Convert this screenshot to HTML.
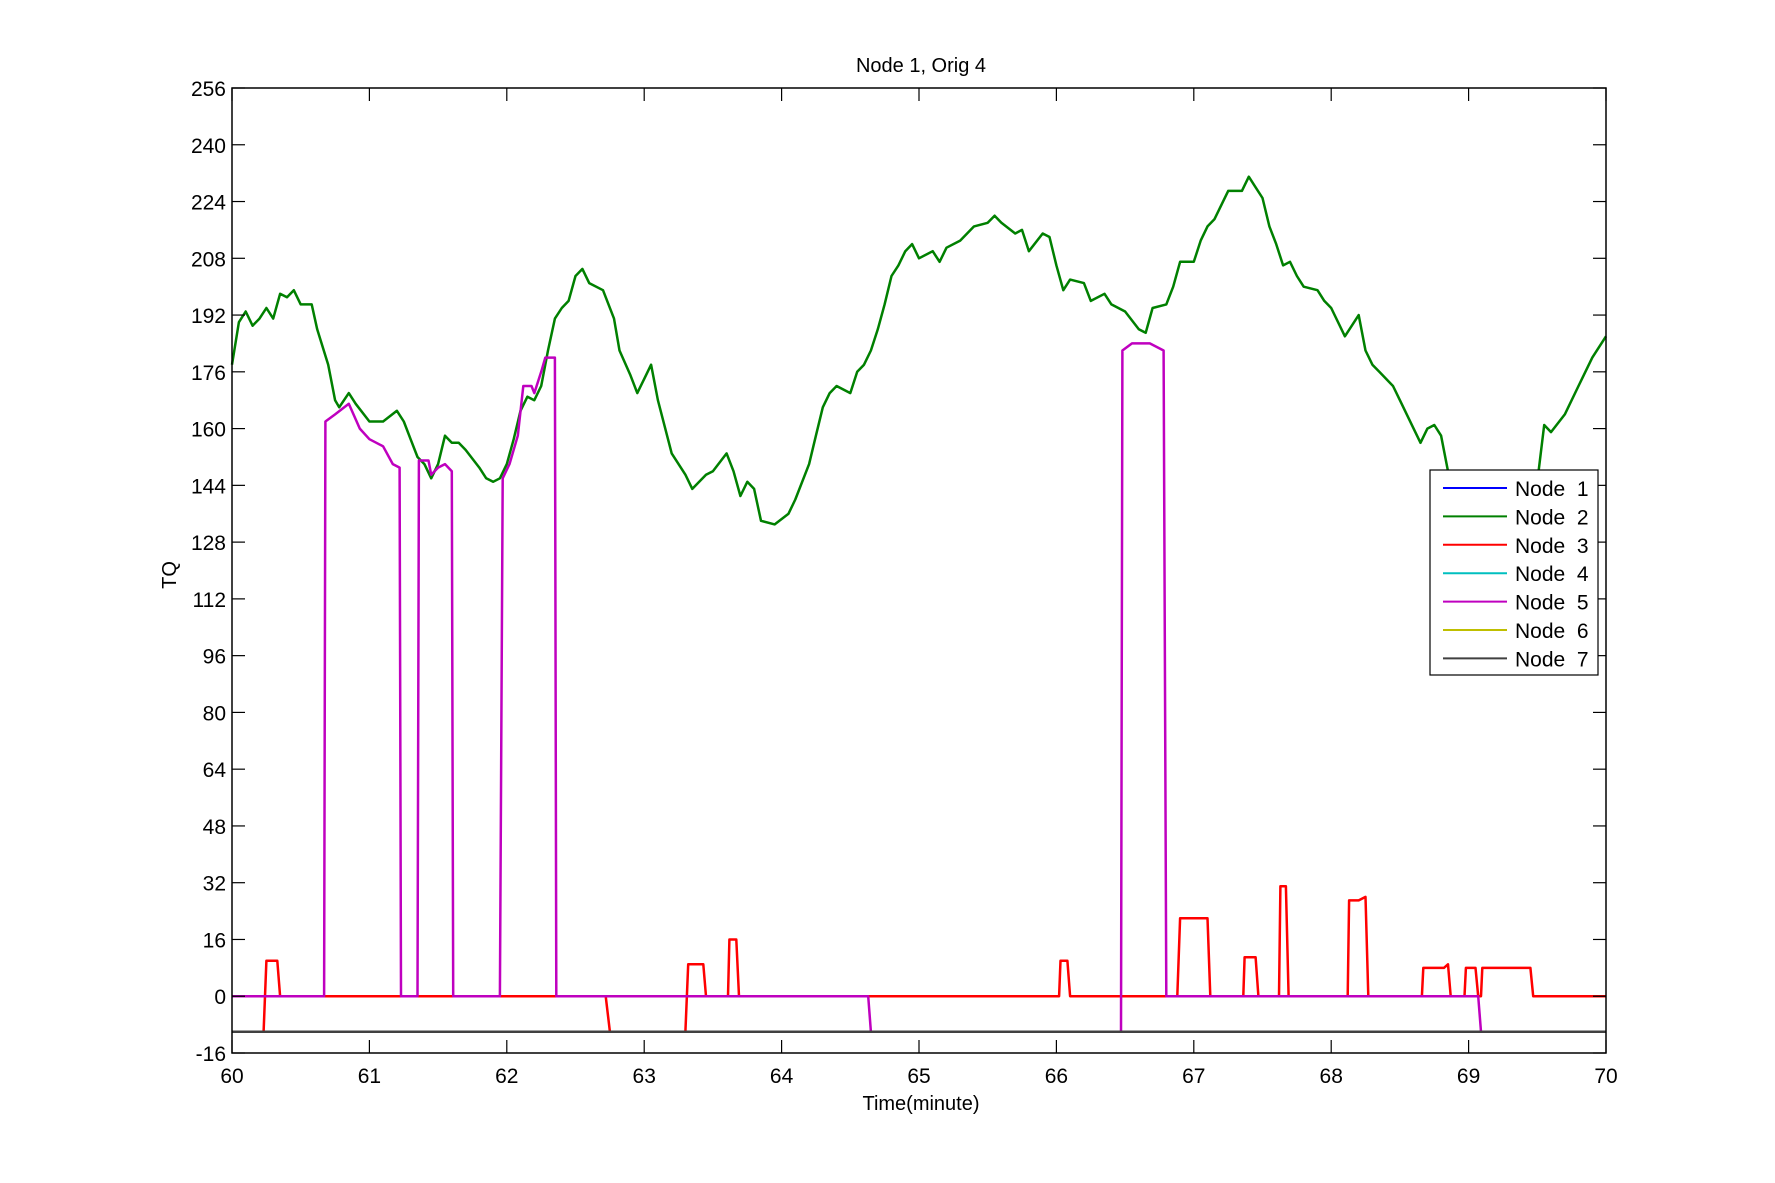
<!DOCTYPE html>
<html><head><meta charset="utf-8"><style>
body{margin:0;background:#fff;}
svg{display:block;font-family:"Liberation Sans",sans-serif;}
</style></head><body>
<svg id="chart" width="1775" height="1183">
<rect width="1775" height="1183" fill="#fff"/>
<g id="plot"></g>
</svg>
<script>
const xTicks=[60,61,62,63,64,65,66,67,68,69,70];
const yTicks=[-16,0,16,32,48,64,80,96,112,128,144,160,176,192,208,224,240,256];
const greenT=[60,60.05,60.1,60.15,60.2,60.25,60.3,60.35,60.4,60.45,60.5,60.58,60.62,60.7,60.75,60.78,60.85,60.9,61.0,61.1,61.2,61.25,61.3,61.35,61.4,61.45,61.5,61.55,61.6,61.65,61.7,61.8,61.85,61.9,61.95,62.0,62.05,62.1,62.15,62.2,62.25,62.3,62.35,62.4,62.45,62.5,62.55,62.6,62.7,62.78,62.82,62.9,62.95,63.0,63.05,63.1,63.2,63.3,63.35,63.45,63.5,63.6,63.65,63.7,63.75,63.8,63.85,63.95,64.05,64.1,64.2,64.25,64.3,64.35,64.4,64.5,64.55,64.6,64.65,64.7,64.75,64.8,64.85,64.9,64.95,65.0,65.1,65.15,65.2,65.3,65.4,65.5,65.55,65.6,65.7,65.75,65.8,65.9,65.95,66.0,66.05,66.1,66.2,66.25,66.35,66.4,66.5,66.6,66.65,66.7,66.8,66.85,66.9,67.0,67.05,67.1,67.15,67.25,67.35,67.4,67.45,67.5,67.55,67.6,67.65,67.7,67.75,67.8,67.9,67.95,68.0,68.1,68.2,68.25,68.3,68.35,68.45,68.5,68.6,68.65,68.7,68.75,68.8,68.85,68.9,69.0,69.2,69.4,69.5,69.55,69.6,69.7,69.8,69.9,70];
const greenV=[178,190,193,189,191,194,191,198,197,199,195,195,188,178,168,166,170,167,162,162,165,162,157,152,150,146,150,158,156,156,154,149,146,145,146,150,157,165,169,168,172,182,191,194,196,203,205,201,199,191,182,175,170,174,178,168,153,147,143,147,148,153,148,141,145,143,134,133,136,140,150,158,166,170,172,170,176,178,182,188,195,203,206,210,212,208,210,207,211,213,217,218,220,218,215,216,210,215,214,206,199,202,201,196,198,195,193,188,187,194,195,200,207,207,213,217,219,227,227,231,228,225,217,212,206,207,203,200,199,196,194,186,192,182,178,176,172,168,160,156,160,161,158,148,140,136,135,137,145,161,159,164,172,180,186];
const redT=[60,60.23,60.25,60.33,60.35,62.72,62.75,63.3,63.32,63.43,63.45,63.61,63.62,63.67,63.69,66.02,66.03,66.08,66.1,66.88,66.9,67.1,67.12,67.36,67.37,67.45,67.47,67.62,67.63,67.67,67.69,68.12,68.13,68.2,68.25,68.27,68.66,68.67,68.82,68.85,68.87,68.97,68.98,69.05,69.07,69.09,69.1,69.45,69.47,70];
const redV=[-10,-10,10,10,0,0,-10,-10,9,9,0,0,16,16,0,0,10,10,0,0,22,22,0,0,11,11,0,0,31,31,0,0,27,27,28,0,0,8,8,9,0,0,8,8,0,0,8,8,0,0];
const magT=[60,60.67,60.68,60.75,60.85,60.93,61.0,61.1,61.17,61.22,61.23,61.35,61.36,61.43,61.45,61.5,61.55,61.6,61.61,61.95,61.97,62.02,62.08,62.12,62.18,62.2,62.25,62.28,62.35,62.36,64.63,64.65,66.47,66.48,66.55,66.68,66.78,66.8,69.07,69.09,70];
const magV=[0,0,162,164,167,160,157,155,150,149,0,0,151,151,147,149,150,148,0,0,146,150,158,172,172,170,176,180,180,0,0,-10,-10,182,184,184,182,0,0,-10,-10];
const blackT=[60,70];
const blackV=[-10,-10];
const legendLabels=["Node  1","Node  2","Node  3","Node  4","Node  5","Node  6","Node  7"];
const legendColors=["#0000ff","#008000","#ff0000","#00bfbf","#bf00bf","#bfbf00","#404040"];

const L=232,R=1606,T=88,B=1053,NS="http://www.w3.org/2000/svg";
const xs=t=>L+(t-60)/10*(R-L);
const ys=v=>B-(v+16)/272*(B-T);
const g=document.getElementById('plot');
function mk(tag,attrs,parent){const e=document.createElementNS(NS,tag);for(const k in attrs)e.setAttribute(k,attrs[k]);(parent||g).appendChild(e);return e;}
function series(ts,vs,color,name){
  const d=ts.map((t,i)=>(i?'L':'M')+xs(t).toFixed(1)+','+ys(vs[i]).toFixed(1)).join('');
  const p=mk('path',{d:d,fill:'none',stroke:color,'stroke-width':2.5,'stroke-linejoin':'round'});
  
  
}
series(greenT,greenV,'#008000','node-2-line');
series(redT,redV,'#ff0000','node-3-line');
series(magT,magV,'#bf00bf','node-5-line');
series(blackT,blackV,'#404040','node-7-line');
const box=mk('rect',{x:L,y:T,width:R-L,height:B-T,fill:'none',stroke:'#000','stroke-width':1.5});


xTicks.forEach(t=>{
  const x=xs(t);
  mk('line',{x1:x,x2:x,y1:B,y2:B-13,stroke:'#000','stroke-width':1.2});
  mk('line',{x1:x,x2:x,y1:T,y2:T+13,stroke:'#000','stroke-width':1.2});
  const tx=mk('text',{x:x,y:B+30,'font-size':21,'text-anchor':'middle'});
  tx.textContent=t;
  
  
});
yTicks.forEach(v=>{
  const y=ys(v);
  mk('line',{x1:L,x2:L+13,y1:y,y2:y,stroke:'#000','stroke-width':1.2});
  mk('line',{x1:R,x2:R-13,y1:y,y2:y,stroke:'#000','stroke-width':1.2});
  const tx=mk('text',{x:L-6,y:y+8,'font-size':21,'text-anchor':'end'});
  tx.textContent=v;
  
  
});
const title=mk('text',{x:921,y:72,'font-size':20,'text-anchor':'middle'});
title.textContent='Node 1, Orig 4';


const xl=mk('text',{x:921,y:1110,'font-size':20,'text-anchor':'middle'});
xl.textContent='Time(minute)';


const yl=mk('text',{x:176,y:575,'font-size':20,'text-anchor':'middle',transform:'rotate(-90 176 575)'});
yl.textContent='TQ';


const lg=mk('g',{});


mk('rect',{x:1430,y:470,width:168,height:205,fill:'#fff',stroke:'#000','stroke-width':1.2},lg);
legendLabels.forEach((lab,i)=>{
  const y=488+i*28.4;
  const en=mk('g',{},lg);
  
  
  mk('line',{x1:1443,x2:1507,y1:y,y2:y,stroke:legendColors[i],'stroke-width':2},en);
  const tx=mk('text',{x:1515,y:y+8,'font-size':21},en);
  tx.textContent=lab;
  tx.style.whiteSpace='pre';
});
</script>
</body></html>
